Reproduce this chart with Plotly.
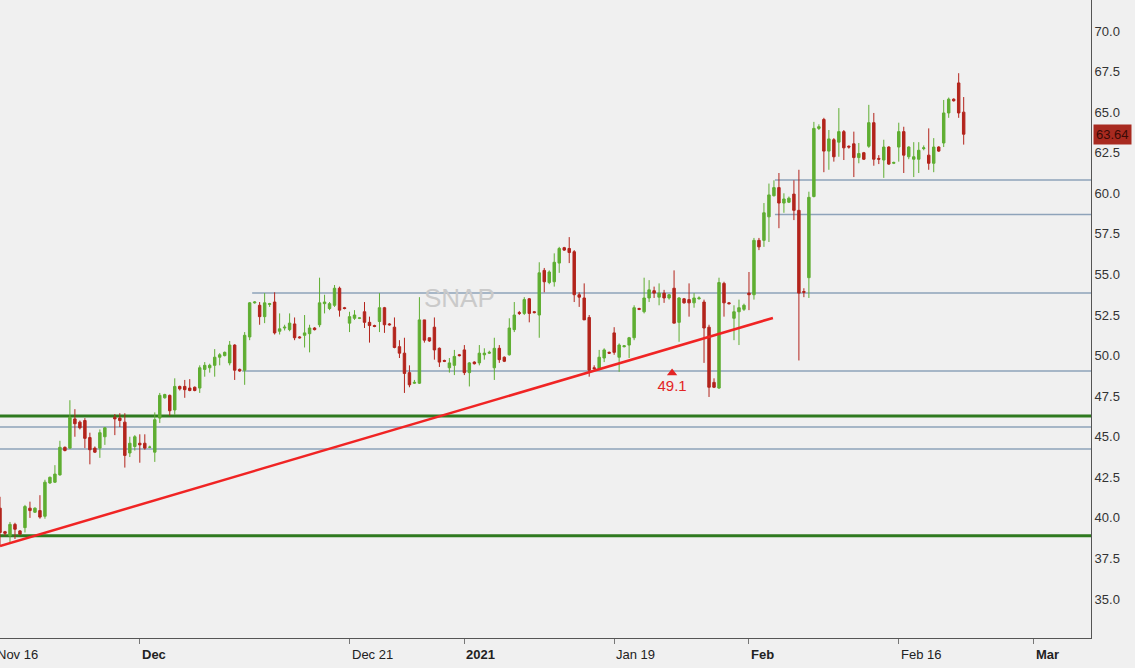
import plotly.graph_objects as go

# ---- data (slot index = one bar, ~3 bars per trading day) ----
opens = [40.6,39.15,38.9,39.6,39.2,39.4,40.6,40.35,40.45,40.1,42.15,42.2,42.65,44.35,44.3,46.1,45.9,46.0,44.95,44.3,44.3,45.0,None,
         46.2,46.15,45.9,44.0,44.4,44.6,44.6,44.35,44.05,46.15,47.4,47.55,46.65,48.1,48.1,48.0,48.05,48.0,49.15,49.25,49.4,49.9,50.0,49.55,50.65,49.15,49.1,
         51.15,53.25,53.1,52.4,53.15,53.3,51.5,51.7,51.6,51.95,51.15,51.25,51.35,51.7,51.9,53.2,52.9,53.1,54.15,52.95,52.0,52.3,52.3,52.7,52.05,51.85,52.1,52.95,51.95,
         51.75,50.55,50.15,48.95,48.3,48.3,52.2,51.1,51.75,50.45,49.7,49.25,49.4,50.05,50.35,48.95,49.6,49.55,50.05,50.15,49.25,50.45,49.9,50.05,51.6,52.65,52.6,53.5,52.7,
         52.5,55.25,54.5,54.55,55.7,56.65,56.6,56.4,53.75,53.55,52.35,49.25,49.2,49.85,50.2,51.4,49.9,50.55,50.65,51.1,52.9,52.7,53.55,54.0,53.6,53.85,53.55,54.15,52.05,
         53.5,53.45,53.25,53.5,53.3,51.75,48.35,48.0,54.45,53.25,52.3,52.7,52.85,53.85,53.75,57.1,57.1,58.55,59.85,60.35,59.4,59.45,59.95,58.95,53.95,54.8,59.8,64.0,
         64.55,62.6,63.3,63.15,63.8,62.9,63.05,62.2,62.5,62.9,64.35,62.15,62.05,62.85,61.85,62.85,63.8,62.25,62.1,62.1,62.75,62.35,61.85,62.85,63.1,64.95,65.8,66.8,65.0]
highs = [41.3,39.2,39.75,39.7,39.25,40.8,41.0,40.65,41.4,42.35,42.55,43.25,44.75,44.4,47.25,46.7,46.0,46.15,45.25,44.4,45.45,45.6,None,
         46.4,46.45,46.45,45.0,45.1,45.15,45.15,44.45,46.5,47.7,47.65,47.6,48.6,48.15,48.5,48.55,48.1,49.4,49.6,49.5,50.4,50.15,50.25,50.9,50.7,49.2,51.45,
         53.3,53.35,53.3,53.85,53.25,53.9,52.6,51.9,52.6,52.35,51.2,52.5,51.9,51.75,54.8,53.75,53.3,54.35,54.25,53.0,52.7,52.8,52.35,53.3,52.4,51.9,53.85,53.0,52.0,
         52.35,50.95,51.1,49.4,48.5,53.6,52.2,51.1,52.35,50.5,49.75,49.85,50.35,50.1,50.65,49.6,49.65,50.65,50.45,50.3,51.1,50.65,49.95,52.3,53.3,52.75,53.6,53.55,52.75,
         55.75,55.4,55.25,56.3,56.7,56.7,57.3,56.5,53.9,54.45,52.5,49.4,50.35,50.45,50.25,51.75,50.75,50.65,51.15,53.1,52.95,54.8,54.65,54.25,54.45,54.05,53.8,55.25,53.6,
         53.55,54.45,53.85,53.65,53.45,51.9,48.6,54.8,54.55,53.3,53.1,53.45,53.2,55.15,57.25,57.25,59.4,60.6,60.8,61.25,60.0,59.8,60.8,61.45,54.15,60.1,64.4,64.25,
         64.65,63.9,63.4,65.25,63.9,62.95,63.8,63.1,62.55,65.45,64.95,62.35,63.3,62.9,61.95,64.35,64.1,62.9,63.15,63.15,62.95,64.0,63.4,62.9,65.75,65.9,65.85,67.4,65.93]
lows = [38.3,38.9,38.5,38.7,38.95,39.1,40.0,40.3,39.95,39.95,42.1,42.15,42.6,44.1,44.25,45.0,45.45,44.3,43.3,44.0,43.7,44.5,None,
        45.1,45.6,43.1,43.75,44.15,43.4,44.2,44.3,43.45,45.85,47.35,46.3,46.35,47.85,47.4,47.8,47.8,47.7,48.7,48.95,48.7,49.4,49.95,49.4,48.5,49.0,48.2,
        50.95,53.2,51.9,52.0,53.0,51.3,51.3,51.55,51.5,50.95,51.05,50.5,50.2,51.55,51.75,52.6,52.8,53.0,52.4,52.85,51.45,52.2,52.25,51.7,50.8,51.75,51.45,51.4,51.85,
        50.45,49.85,47.7,48.05,48.25,48.25,50.8,50.85,49.75,49.3,49.6,48.95,48.8,49.95,48.8,48.1,49.45,49.4,49.75,50.1,48.5,49.55,49.6,50.0,51.45,52.5,52.5,52.05,52.6,
        51.1,53.9,54.4,54.25,55.1,56.45,55.7,53.3,53.0,52.2,48.7,49.1,49.1,49.6,50.1,50.05,49.0,50.5,49.85,50.95,52.8,52.6,53.3,53.55,53.1,53.25,53.45,52.0,50.85,
        53.2,52.4,52.95,53.45,49.55,47.45,48.0,47.95,52.4,53.15,50.95,50.65,52.75,52.8,53.45,56.5,56.7,57.0,59.8,57.85,58.8,59.4,58.35,49.7,53.6,53.55,59.75,63.9,
        61.3,61.45,61.95,62.25,62.05,62.75,61.0,61.85,62.05,62.8,61.7,61.8,60.95,61.75,61.8,61.95,61.25,62.1,61.0,61.25,62.65,61.45,61.3,62.55,62.85,64.65,65.65,64.65,63.0]
closes = [39.1,39.05,39.6,39.3,39.0,40.7,40.45,40.6,40.05,42.2,42.5,42.7,44.35,44.15,46.2,45.8,45.55,44.9,44.2,44.05,45.25,45.55,None,
          46.1,46.0,43.85,44.6,45.0,44.5,44.3,44.36,46.05,47.55,47.6,46.6,48.1,47.95,47.9,47.85,47.85,49.25,49.4,49.4,49.9,50.05,50.2,50.65,49.1,49.05,51.25,
          53.25,53.3,52.4,53.25,53.2,51.4,51.65,51.75,52.0,51.1,51.1,51.4,51.7,51.6,53.25,53.3,53.2,54.15,52.8,52.9,52.4,52.5,52.32,52.05,51.85,51.8,52.95,51.9,51.9,
          50.5,50.15,48.9,48.2,48.35,52.2,50.95,50.9,50.35,49.6,49.65,49.55,49.95,50.0,48.95,49.55,49.5,50.15,50.15,50.2,50.45,49.75,49.65,51.7,52.5,52.6,53.45,52.6,52.65,
          55.1,54.55,55.15,55.75,56.6,56.5,56.35,53.75,53.6,52.2,49.1,49.2,49.9,50.35,50.15,50.2,50.65,50.6,51.1,52.95,52.85,53.55,54.05,53.85,53.85,53.55,53.75,52.0,53.55,
          53.25,53.25,53.55,53.55,51.7,48.05,48.05,54.5,53.25,53.2,52.7,52.95,53.1,53.75,57.1,56.7,58.8,59.9,60.35,59.4,59.65,59.7,58.95,53.85,53.9,59.75,64.0,64.1,
          62.6,63.35,62.25,63.8,62.8,62.85,62.2,62.45,62.1,64.35,62.1,62.1,62.85,61.8,61.9,63.8,62.35,62.85,62.25,62.65,62.8,61.85,62.85,62.6,64.95,65.8,65.7,64.95,63.64]
slots = list(range(1, 1 + len(opens)))

tick_slots = [0, 29, 71, 94, 124, 151, 181, 208]
tick_labels = ["Nov 16", "<b>Dec</b>", "Dec 21", "<b>2021</b>", "Jan 19", "<b>Feb</b>", "Feb 16", "<b>Mar</b>"]
y_ticks = [35.0, 37.5, 40.0, 42.5, 45.0, 47.5, 50.0, 52.5, 55.0, 57.5, 60.0, 62.5, 65.0, 67.5, 70.0]

blue_levels = [53.86, 49.05, 60.82, 58.70, 45.60, 44.25]
blue_starts = [51.5, 49.5, 156.2, 156.2, None, None]
green_levels = [46.28, 38.90]
trend_x = [1.0, 155.8]
trend_y = [38.27, 52.32]
marker_slot = [135.6]
marker_price = [48.93]
marker_text = ["49.1"]
last_price = 63.64
ticker = "SNAP"

X_RANGE = [1.0, 219.5]
Y_RANGE = [32.6, 71.91]
PLOT_W = 1135 - 44
PX_PER_SLOT = PLOT_W / (X_RANGE[1] - X_RANGE[0])
BG = "#f0f0f0"

fig = go.Figure()
fig.add_trace(go.Candlestick(
    x=slots, open=opens, high=highs, low=lows, close=closes,
    increasing=dict(line=dict(color="#5fae32", width=1), fillcolor="#5fae32"),
    decreasing=dict(line=dict(color="#b3241c", width=1), fillcolor="#b3241c"),
    whiskerwidth=0, showlegend=False, hoverinfo="skip"))

fig.add_trace(go.Scatter(
    x=marker_slot, y=marker_price, mode="markers+text", text=marker_text,
    textposition="bottom center",
    marker=dict(symbol="triangle-up", size=9, color="#e32424"),
    textfont=dict(size=15, color="#e32424", family="Liberation Sans, Arial"),
    showlegend=False, hoverinfo="skip"))

shapes = []
for lv, st in zip(blue_levels, blue_starts):
    shapes.append(dict(type="line", xref="x", yref="y", x0=st if st is not None else X_RANGE[0],
                       x1=X_RANGE[1], y0=lv, y1=lv,
                       line=dict(color="#8ea3ba", width=1.5), layer="below"))
for lv in green_levels:
    shapes.append(dict(type="line", xref="x", yref="y", x0=X_RANGE[0], x1=X_RANGE[1], y0=lv, y1=lv,
                       line=dict(color="#2f7a1f", width=3), layer="below"))
shapes.append(dict(type="line", xref="x", yref="y", x0=trend_x[0], x1=trend_x[1], y0=trend_y[0], y1=trend_y[1],
                   line=dict(color="#f02424", width=2.5), layer="above"))

annotations = []
for ts, tl in zip(tick_slots, tick_labels):
    xa = max(ts, X_RANGE[0])
    shift = (ts - xa) * PX_PER_SLOT
    annotations.append(dict(x=xa, y=0, xref="x", yref="paper", text=tl, showarrow=False,
                            xanchor="left", yanchor="top", yshift=-7, xshift=shift,
                            font=dict(size=13, color="#222222", family="Liberation Sans, Arial")))
annotations.append(dict(x=0.4216, y=0.533, xref="paper", yref="paper", text=ticker, showarrow=False,
                        font=dict(size=26, color="#cacaca", family="Liberation Sans, Arial")))
annotations.append(dict(x=1, y=last_price, xref="paper", yref="y", text=f"{last_price:.2f}", showarrow=False,
                        xanchor="left", xshift=2, bgcolor="#a82a20", borderpad=2,
                        font=dict(size=13, color="#3a0a06", family="Liberation Sans, Arial")))

fig.update_layout(
    width=1135, height=668,
    margin=dict(l=0, r=44, t=0, b=30),
    paper_bgcolor=BG, plot_bgcolor=BG,
    shapes=shapes, annotations=annotations,
    xaxis=dict(range=X_RANGE, rangeslider=dict(visible=False), showgrid=False, zeroline=False,
               tickvals=tick_slots, showticklabels=False, ticks="outside", ticklen=5,
               tickcolor="#777777", showline=True, linecolor="#555555", linewidth=1),
    yaxis=dict(range=Y_RANGE, side="right", showgrid=False, zeroline=False,
               tickvals=y_ticks, ticktext=[f"{v:.1f}" for v in y_ticks], ticks="",
               tickfont=dict(size=13, color="#333333", family="Liberation Sans, Arial"),
               showline=True, linecolor="#555555", linewidth=1),
)

fig.write_html("out.html")
